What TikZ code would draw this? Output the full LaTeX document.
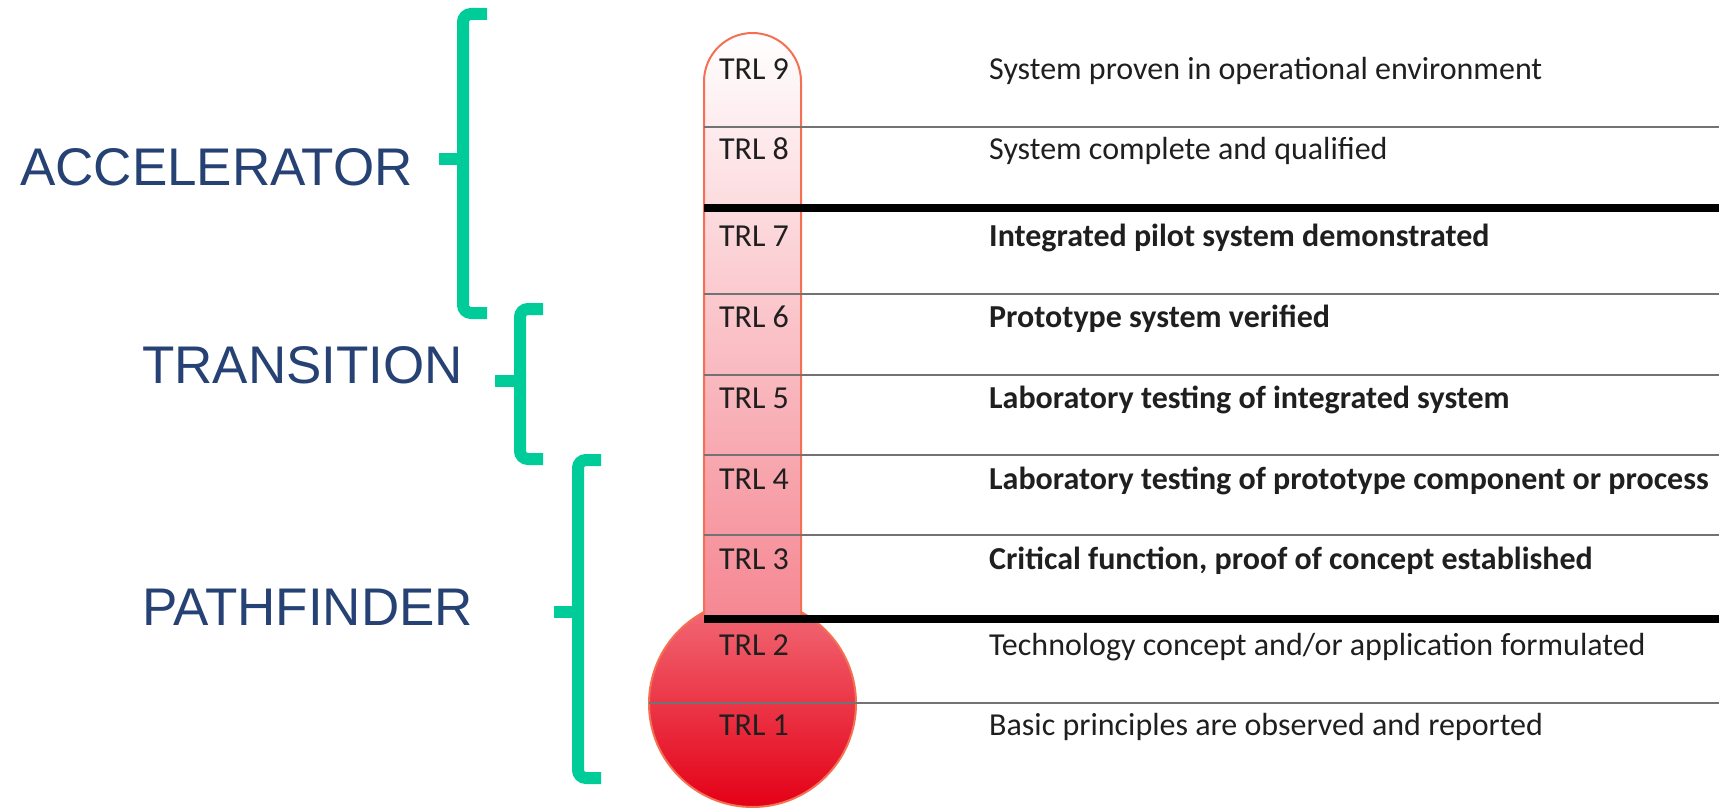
\documentclass[tikz,border=0pt]{standalone}
\usepackage{fontspec}
\setmainfont{Carlito}
\newfontfamily\phasefont{Liberation Sans}
\definecolor{bracegreen}{RGB}{0,204,153}
\definecolor{phaseblue}{RGB}{38,66,116}
\definecolor{tubeline}{RGB}{244,112,82}
\definecolor{tubepink}{RGB}{245,135,146}
\definecolor{bulbtop}{RGB}{242,108,120}
\definecolor{bulbbottom}{RGB}{228,0,22}
\definecolor{rulegray}{RGB}{115,115,115}
\begin{document}
\begin{tikzpicture}[x=1pt,y=-1pt,
    trl/.style={font=\fontsize{32}{36}\selectfont, text=black!88, inner sep=0pt, anchor=base},
    desc/.style={font=\fontsize{32}{36}\selectfont, text=black!88, inner sep=0pt, anchor=base west},
    phase/.style={font=\phasefont\fontsize{53}{60}\selectfont, text=phaseblue, inner sep=0pt, anchor=base west},
    brace/.style={draw=bracegreen, line width=12pt, rounded corners=8pt},
    thinrule/.style={draw=rulegray, line width=2pt},
    thickrule/.style={draw=black, line width=8pt}]
            \useasboundingbox (0,0) rectangle (1719,808);

            % Thermometer
            \coordinate (P) at (752.5,703.5);
            \coordinate (Q) at (704,619);
            \coordinate (R) at (704,81.5);
            \coordinate (S) at (801,619);

            \shade[top color=bulbtop, bottom color=bulbbottom, draw=tubeline, line width=2pt] (P) circle (103.5pt);
            \shade[top color=white, bottom color=tubepink, draw=tubeline, line width=2pt]
                (Q) -- (R) arc[start angle=180, end angle=0, radius=48.5pt] -- (S) -- cycle;

            % Rules between the levels
            \coordinate (A) at (704,127);   \coordinate (A') at (1719,127);
            \coordinate (B) at (704,208);   \coordinate (B') at (1719,208);
            \coordinate (C) at (704,294);   \coordinate (C') at (1719,294);
            \coordinate (D) at (704,375);   \coordinate (D') at (1719,375);
            \coordinate (E) at (704,455);   \coordinate (E') at (1719,455);
            \coordinate (F) at (704,535);   \coordinate (F') at (1719,535);
            \coordinate (G) at (704,619);   \coordinate (G') at (1719,619);
            \coordinate (H) at (649,703);   \coordinate (H') at (1719,703);

            \draw[thinrule] (A) -- (A');
            \draw[thickrule] (B) -- (B');
            \draw[thinrule] (C) -- (C');
            \draw[thinrule] (D) -- (D');
            \draw[thinrule] (E) -- (E');
            \draw[thinrule] (F) -- (F');
            \draw[thickrule] (G) -- (G');
            \draw[thinrule] (H) -- (H');

            % Levels
            \node[trl] (T9) at (754,79) {TRL 9};
            \node[trl] (T8) at (754,159) {TRL 8};
            \node[trl] (T7) at (754,246) {TRL 7};
            \node[trl] (T6) at (754,327) {TRL 6};
            \node[trl] (T5) at (754,408) {TRL 5};
            \node[trl] (T4) at (754,489) {TRL 4};
            \node[trl] (T3) at (754,569) {TRL 3};
            \node[trl] (T2) at (754,655) {TRL 2};
            \node[trl] (T1) at (754,735) {TRL 1};

            \node[desc] (D9) at (989,79) {System proven in operational environment};
            \node[desc] (D8) at (989,159) {System complete and qualified};
            \node[desc] (D7) at (989,246) {\bfseries Integrated pilot system demonstrated};
            \node[desc] (D6) at (989,327) {\bfseries Prototype system verified};
            \node[desc] (D5) at (989,408) {\bfseries Laboratory testing of integrated system};
            \node[desc] (D4) at (989,489) {\bfseries Laboratory testing of prototype component or process};
            \node[desc] (D3) at (989,569) {\bfseries Critical function, proof of concept established};
            \node[desc] (D2) at (989,655) {Technology concept and/or application formulated};
            \node[desc] (D1) at (989,735) {Basic principles are observed and reported};

            % Phases and braces
            \node[phase] (acc) at (20,185) {ACCELERATOR};
            \node[phase] (trans) at (142,383) {TRANSITION};
            \node[phase] (path) at (142,625) {PATHFINDER};

            \coordinate (K1) at (487,14);  \coordinate (K2) at (463,14);
            \coordinate (K3) at (463,313); \coordinate (K4) at (487,313);
            \coordinate (K5) at (439,159); \coordinate (K6) at (463,159);

            \coordinate (M1) at (543,309); \coordinate (M2) at (520,309);
            \coordinate (M3) at (520,459); \coordinate (M4) at (543,459);
            \coordinate (M5) at (495,381); \coordinate (M6) at (520,381);

            \coordinate (N1) at (601,460); \coordinate (N2) at (578,460);
            \coordinate (N3) at (578,778); \coordinate (N4) at (601,778);
            \coordinate (N5) at (554,612); \coordinate (N6) at (578,612);

            \draw[brace] (K1) -- (K2) -- (K3) -- (K4);
            \draw[brace] (K5) -- (K6);
            \draw[brace] (M1) -- (M2) -- (M3) -- (M4);
            \draw[brace] (M5) -- (M6);
            \draw[brace] (N1) -- (N2) -- (N3) -- (N4);
            \draw[brace] (N5) -- (N6);
\end{tikzpicture}
\end{document}
